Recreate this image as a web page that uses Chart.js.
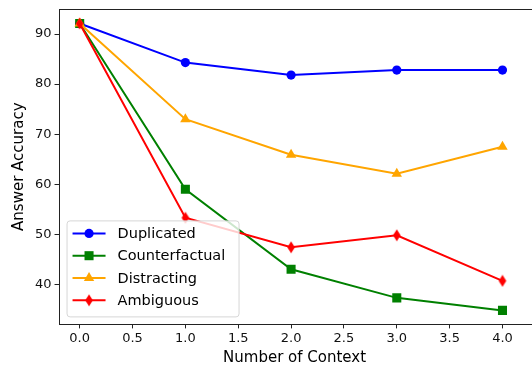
<!DOCTYPE html>
<html>
<head>
<meta charset="utf-8">
<script src="https://cdn.jsdelivr.net/npm/chart.js@4.4.0/dist/chart.umd.min.js"></script>
<style>
  html, body { margin: 0; padding: 0; background: #fff; overflow: hidden; }
  #wrap { width: 532px; height: 367px; overflow: hidden; }
</style>
</head>
<body>
<div id="wrap"><canvas id="myChart" width="537" height="367"></canvas></div>
<script>
const contexts = [0, 1, 2, 3, 4];
const duplicated = [92.1, 84.3, 81.8, 82.8, 82.8];
const counterfactual = [92.1, 59.0, 43.0, 37.3, 34.8];
const distracting = [92.1, 73.0, 65.9, 62.1, 67.5];
const ambiguous = [92.1, 53.3, 47.4, 49.8, 40.7];
const xTicks = [0, 0.5, 1, 1.5, 2, 2.5, 3, 3.5, 4];
const yTicks = [40, 50, 60, 70, 80, 90];

const font = "'DejaVu Sans', sans-serif";

// thin diamond marker like matplotlib 'd'
function thinDiamond(color) {
  const c = document.createElement('canvas');
  c.width = 10; c.height = 13;
  const g = c.getContext('2d');
  g.fillStyle = color;
  g.beginPath();
  g.moveTo(5, 0.5);
  g.lineTo(8.8, 6.5);
  g.lineTo(5, 12.5);
  g.lineTo(1.2, 6.5);
  g.closePath();
  g.fill();
  return c;
}
const diamond = thinDiamond('#ff0000');

function series(label, values, color, style, radius, order) {
  return {
    label: label,
    data: contexts.map((x, i) => ({ x: x, y: values[i] })),
    borderColor: color,
    backgroundColor: color,
    borderWidth: 2,
    pointStyle: style,
    pointRadius: radius,
    pointBorderWidth: 0,
    pointBackgroundColor: color,
    order: order
  };
}

const datasets = [
  series('Duplicated', duplicated, '#0000ff', 'circle', 4.6, 3),
  series('Counterfactual', counterfactual, '#008000', 'rect', 6.4, 2),
  series('Distracting', distracting, '#ffa500', 'triangle', 6, 1),
  series('Ambiguous', ambiguous, '#ff0000', diamond, 6, 0)
];

const framePlugin = {
  id: 'frame',
  afterDraw(chart) {
    const a = chart.chartArea;
    const ctx = chart.ctx;
    ctx.save();
    ctx.strokeStyle = '#222';
    ctx.lineWidth = 1;
    ctx.strokeRect(Math.round(a.left) + 0.5, Math.round(a.top) + 0.5,
      Math.round(a.right - a.left) + 2, Math.round(a.bottom - a.top));

    // legend, matplotlib style, lower left
    const x0 = a.left + 8, y0 = a.bottom - 104;
    const w = 172, h = 96;
    ctx.fillStyle = 'rgba(255,255,255,0.8)';
    ctx.strokeStyle = '#d6d6d6';
    ctx.lineWidth = 1;
    ctx.beginPath();
    ctx.roundRect(x0 + 0.5, y0 + 0.5, w, h, 3);
    ctx.fill();
    ctx.stroke();
    chart.data.datasets.forEach((ds, i) => {
      const cy = y0 + 13 + i * 22.3;
      ctx.strokeStyle = ds.borderColor;
      ctx.lineWidth = 2;
      ctx.beginPath();
      ctx.moveTo(x0 + 6, cy);
      ctx.lineTo(x0 + 39, cy);
      ctx.stroke();
      ctx.fillStyle = ds.borderColor;
      Chart.helpers.drawPoint(ctx, {
        pointStyle: ds.pointStyle,
        radius: ds.pointRadius,
        rotation: 0,
        borderWidth: 0
      }, x0 + 22.5, cy);
      ctx.fillStyle = '#000';
      ctx.font = '14.5px ' + font;
      ctx.textBaseline = 'middle';
      ctx.fillText(ds.label, x0 + 51, cy + 1);
    });
    ctx.restore();
  }
};

const noPad = s => { s.paddingLeft = 0; s.paddingRight = 0; s.paddingTop = 0; s.paddingBottom = 0; };

const ctx = document.getElementById('myChart');

const chart = new Chart(ctx, {
  type: 'line',
  data: { datasets: datasets },
  options: {
    responsive: false,
    animation: false,
    layout: { padding: { top: 9, right: 0, left: 10, bottom: 0 } },
    plugins: { legend: { display: false }, tooltip: { enabled: false } },
    scales: {
      x: {
        type: 'linear',
        min: -0.2,
        max: 4.266,
        afterBuildTicks: s => { s.ticks = xTicks.map(v => ({ value: v })); },
        afterFit: noPad,
        grid: { drawOnChartArea: false, drawTicks: true, tickLength: 4, color: '#222' },
        border: { display: false },
        ticks: {
          color: '#111', font: { family: font, size: 13 }, padding: 2,
          maxRotation: 0, autoSkip: false,
          callback: v => v.toFixed(1)
        },
        title: { display: true, text: 'Number of Context', color: '#000',
                 font: { family: font, size: 15 }, padding: { top: 1, bottom: 0 } }
      },
      y: {
        min: 32.0,
        max: 95.0,
        afterBuildTicks: s => { s.ticks = yTicks.map(v => ({ value: v })); },
        afterFit: noPad,
        grid: { drawOnChartArea: false, drawTicks: true, tickLength: 4, color: '#222' },
        border: { display: false },
        ticks: { color: '#111', font: { family: font, size: 13 }, padding: 3, autoSkip: false },
        title: { display: true, text: 'Answer Accuracy', color: '#000',
                 font: { family: font, size: 15 }, padding: { top: 0, bottom: 4 } }
      }
    }
  },
  plugins: [framePlugin]
});
</script>
</body>
</html>
